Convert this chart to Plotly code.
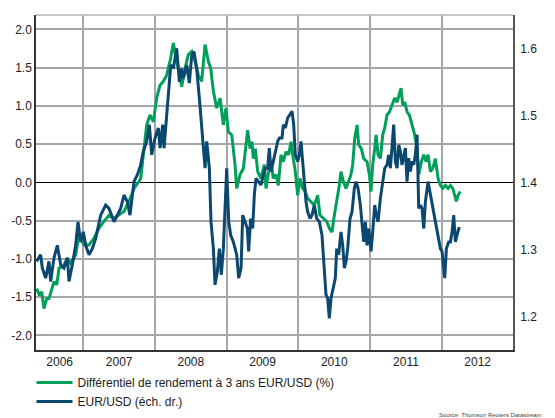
import plotly.graph_objects as go

# Decimal-year time stamps and values
spread_t = [2006.349, 2006.39, 2006.42, 2006.451, 2006.49, 2006.521, 2006.591, 2006.63, 2006.661, 2006.72,
            2006.777, 2006.823, 2006.893, 2006.940, 2007.009, 2007.079, 2007.149, 2007.218, 2007.288, 2007.358,
            2007.428, 2007.497, 2007.567, 2007.637, 2007.707, 2007.776, 2007.80, 2007.837, 2007.884, 2007.930,
            2007.977, 2008.023, 2008.070, 2008.116, 2008.163, 2008.209, 2008.256, 2008.293, 2008.326, 2008.372,
            2008.419, 2008.465, 2008.512, 2008.558, 2008.605, 2008.651, 2008.698, 2008.744, 2008.777, 2008.814,
            2008.860, 2008.907, 2008.953, 2008.990, 2009.023, 2009.070, 2009.116, 2009.139, 2009.186, 2009.232,
            2009.269, 2009.292, 2009.325, 2009.353, 2009.371, 2009.399, 2009.432, 2009.478, 2009.525, 2009.548,
            2009.585, 2009.618, 2009.650, 2009.687, 2009.720, 2009.757, 2009.790, 2009.827, 2009.864, 2009.897,
            2009.920, 2009.957, 2009.990, 2010.022, 2010.059, 2010.097, 2010.129, 2010.176, 2010.222, 2010.269,
            2010.301, 2010.348, 2010.394, 2010.431, 2010.468, 2010.501, 2010.534, 2010.571, 2010.594, 2010.627,
            2010.664, 2010.701, 2010.733, 2010.757, 2010.785, 2010.818, 2010.841, 2010.878, 2010.911, 2010.957,
            2010.990, 2011.013, 2011.036, 2011.064, 2011.083, 2011.111, 2011.143, 2011.176, 2011.204, 2011.236,
            2011.269, 2011.306, 2011.343, 2011.376, 2011.399, 2011.431, 2011.455, 2011.483, 2011.515, 2011.548,
            2011.585, 2011.622, 2011.655, 2011.678, 2011.715, 2011.748, 2011.780, 2011.808, 2011.841, 2011.873,
            2011.910, 2011.948, 2011.980, 2012.013, 2012.050, 2012.087, 2012.120, 2012.152, 2012.180, 2012.203,
            2012.227, 2012.259]
spread_v = [-1.39, -1.48, -1.43, -1.65, -1.52, -1.52, -1.30, -1.34, -1.12, -1.10,
            -0.99, -1.06, -0.95, -0.69, -0.82, -0.82, -0.73, -0.60, -0.51, -0.43,
            -0.47, -0.43, -0.38, -0.25, -0.08, 0.01, 0.05, 0.36, 0.75, 0.88,
            0.79, 1.10, 1.27, 1.32, 1.40, 1.58, 1.82, 1.62, 1.49, 1.25,
            1.49, 1.67, 1.71, 1.58, 1.40, 1.32, 1.80, 1.58, 1.49, 1.19,
            0.97, 1.10, 0.75, 0.97, 0.66, 0.62, 0.23, -0.08, 0.10, 0.18,
            0.55, 0.68, 0.44, 0.53, 0.31, 0.44, 0.14, 0.05, 0.23, -0.08,
            0.14, 0.27, 0.05, 0.10, -0.04, 0.36, 0.27, 0.40, 0.36, 0.53,
            0.36, 0.14, -0.17, 0.05, -0.08, -0.12, -0.21, -0.25, -0.30, -0.17,
            -0.43, -0.47, -0.51, -0.60, -0.65, -0.43, -0.25, -0.04, 0.14, 0.01,
            -0.08, 0.01, 0.10, 0.23, 0.57, 0.75, 0.49, 0.44, 0.31, 0.27,
            0.10, -0.12, 0.23, 0.44, 0.62, 0.36, 0.31, 0.62, 0.71, 0.88,
            0.92, 1.01, 1.10, 1.05, 1.14, 1.23, 1.01, 1.05, 0.92, 0.88,
            0.75, 0.62, 0.44, 0.10, 0.27, 0.36, 0.27, 0.36, 0.14, 0.18,
            0.31, 0.05, -0.04, -0.08, -0.04, -0.08, -0.04, -0.08, -0.17, -0.25,
            -0.17, -0.12]

eurusd_t = [2006.349, 2006.405, 2006.428, 2006.475, 2006.521, 2006.544, 2006.591, 2006.637, 2006.684, 2006.730,
            2006.777, 2006.800, 2006.847, 2006.893, 2006.926, 2006.963, 2007.000, 2007.033, 2007.079, 2007.126,
            2007.172, 2007.242, 2007.312, 2007.358, 2007.428, 2007.474, 2007.521, 2007.567, 2007.614, 2007.651,
            2007.707, 2007.753, 2007.800, 2007.837, 2007.884, 2007.921, 2007.954, 2008.000, 2008.047, 2008.070,
            2008.107, 2008.126, 2008.163, 2008.186, 2008.219, 2008.256, 2008.302, 2008.340, 2008.372, 2008.395,
            2008.442, 2008.479, 2008.512, 2008.544, 2008.581, 2008.619, 2008.651, 2008.674, 2008.698, 2008.721,
            2008.758, 2008.781, 2008.814, 2008.837, 2008.870, 2008.897, 2008.925, 2008.953, 2008.981, 2009.000,
            2009.028, 2009.056, 2009.093, 2009.139, 2009.167, 2009.200, 2009.223, 2009.256, 2009.288, 2009.306,
            2009.334, 2009.362, 2009.385, 2009.408, 2009.446, 2009.478, 2009.511, 2009.539, 2009.571, 2009.594,
            2009.618, 2009.650, 2009.678, 2009.711, 2009.734, 2009.771, 2009.790, 2009.818, 2009.850, 2009.873,
            2009.911, 2009.934, 2009.957, 2009.990, 2010.013, 2010.036, 2010.059, 2010.083, 2010.106, 2010.129,
            2010.162, 2010.190, 2010.222, 2010.255, 2010.292, 2010.329, 2010.362, 2010.385, 2010.408, 2010.431,
            2010.455, 2010.478, 2010.515, 2010.534, 2010.562, 2010.594, 2010.618, 2010.641, 2010.664, 2010.687,
            2010.720, 2010.748, 2010.780, 2010.804, 2010.832, 2010.864, 2010.887, 2010.911, 2010.934, 2010.957,
            2010.980, 2011.013, 2011.036, 2011.064, 2011.087, 2011.111, 2011.143, 2011.176, 2011.204, 2011.236,
            2011.259, 2011.283, 2011.306, 2011.329, 2011.352, 2011.376, 2011.399, 2011.422, 2011.445, 2011.469,
            2011.492, 2011.515, 2011.538, 2011.562, 2011.585, 2011.608, 2011.631, 2011.655, 2011.678, 2011.701,
            2011.724, 2011.748, 2011.771, 2011.808, 2011.841, 2011.873, 2011.910, 2011.948, 2011.980, 2012.003,
            2012.027, 2012.041, 2012.064, 2012.096, 2012.120, 2012.143, 2012.166, 2012.189, 2012.213, 2012.236,
            2012.259]
eurusd_v = [1.282, 1.292, 1.272, 1.257, 1.282, 1.252, 1.287, 1.306, 1.277, 1.272,
            1.287, 1.252, 1.277, 1.306, 1.341, 1.311, 1.326, 1.306, 1.292, 1.301,
            1.316, 1.351, 1.366, 1.361, 1.341, 1.351, 1.361, 1.381, 1.371, 1.351,
            1.401, 1.411, 1.426, 1.446, 1.461, 1.486, 1.441, 1.466, 1.481, 1.451,
            1.486, 1.451, 1.506, 1.535, 1.575, 1.570, 1.600, 1.550, 1.570, 1.555,
            1.575, 1.548, 1.590, 1.595, 1.570, 1.525, 1.481, 1.461, 1.421, 1.461,
            1.421, 1.341, 1.301, 1.247, 1.267, 1.301, 1.262, 1.301, 1.391, 1.421,
            1.341, 1.321, 1.311, 1.292, 1.257, 1.272, 1.351, 1.341, 1.331, 1.297,
            1.346, 1.331, 1.381, 1.406, 1.401, 1.396, 1.411, 1.421, 1.421, 1.451,
            1.416, 1.431, 1.441, 1.461, 1.466, 1.466, 1.486, 1.481, 1.496, 1.500,
            1.506, 1.486, 1.441, 1.431, 1.441, 1.461, 1.431, 1.391, 1.371, 1.356,
            1.346, 1.351, 1.366, 1.346, 1.341, 1.321, 1.272, 1.232, 1.227, 1.197,
            1.227, 1.237, 1.257, 1.301, 1.292, 1.326, 1.306, 1.272, 1.282, 1.301,
            1.346, 1.356, 1.391, 1.401, 1.391, 1.366, 1.341, 1.311, 1.341, 1.306,
            1.331, 1.297, 1.326, 1.366, 1.351, 1.341, 1.376, 1.401, 1.421, 1.426,
            1.441, 1.421, 1.461, 1.486, 1.431, 1.421, 1.456, 1.446, 1.426, 1.441,
            1.451, 1.401, 1.436, 1.416, 1.431, 1.426, 1.441, 1.471, 1.361, 1.366,
            1.361, 1.331, 1.371, 1.401, 1.381, 1.366, 1.341, 1.321, 1.301, 1.297,
            1.272, 1.257, 1.301, 1.311, 1.311, 1.326, 1.351, 1.311, 1.321, 1.331,
            1.331]

year_labels = ["2006", "2007", "2008", "2009", "2010", "2011", "2012"]
year_label_pos = [2006.67, 2007.5, 2008.5, 2009.5, 2010.5, 2011.5, 2012.5]
year_bounds = [2007, 2008, 2009, 2010, 2011, 2012]
left_ticks = [-2.0, -1.5, -1.0, -0.5, 0.0, 0.5, 1.0, 1.5, 2.0]
left_text = ["-2.0", "-1.5", "-1.0", "-0.5", "0.0", "0.5", "1.0", "1.5", "2.0"]
right_ticks = [1.2, 1.3, 1.4, 1.5, 1.6]

GREEN = "#00A05A"
BLUE = "#0B4870"
GRID = "#A4A5A9"
FONT = "Arial, Liberation Sans, sans-serif"

fig = go.Figure()
fig.add_trace(go.Scatter(x=spread_t, y=spread_v, mode="lines",
                         name="Différentiel de rendement à 3 ans EUR/USD (%)",
                         line=dict(color=GREEN, width=3)))
fig.add_trace(go.Scatter(x=eurusd_t, y=eurusd_v, mode="lines", yaxis="y2",
                         name="EUR/USD (éch. dr.)",
                         line=dict(color=BLUE, width=3)))

# the page body adds an 8px offset, so the figure is 8px smaller and shifted
fig.update_layout(
    width=547, height=410,
    margin=dict(l=28, r=42, t=7, b=68, autoexpand=False),
    paper_bgcolor="white", plot_bgcolor="white",
    font=dict(family=FONT, size=12, color="#222222"),
    showlegend=True,
    legend=dict(x=-0.0094, y=-0.054, xanchor="left", yanchor="top", orientation="v",
                font=dict(size=12, color="#222222"), bgcolor="rgba(0,0,0,0)",
                itemwidth=36, tracegroupgap=0),
    xaxis=dict(range=[2006.34, 2012.993], tickmode="array", tickvals=year_label_pos,
               ticktext=year_labels, showgrid=False, zeroline=False, ticks="",
               automargin=False,
               showline=True, linecolor="#333333", linewidth=1.5,
               minor=dict(tickmode="array", tickvals=year_bounds, showgrid=True,
                          gridcolor=GRID, gridwidth=2, ticks=""),
               tickfont=dict(size=12)),
    yaxis=dict(range=[-2.192, 2.187], tickmode="array", tickvals=left_ticks, ticktext=left_text,
               showgrid=True, gridcolor=GRID, gridwidth=2, zeroline=True, automargin=False,
               zerolinecolor="black", zerolinewidth=1.2, ticks="",
               showline=True, linecolor="#333333", linewidth=1.5, tickfont=dict(size=12)),
    yaxis2=dict(range=[1.1497, 1.6497], overlaying="y", side="right", tickmode="array",
                tickvals=right_ticks, tickformat=".1f", showgrid=False, zeroline=False, ticks="",
                ticklabelstandoff=3, automargin=False,
                showline=True, linecolor="#555555", linewidth=1.5, tickfont=dict(size=12)),
    shapes=[dict(type="line", xref="paper", yref="paper", x0=0, x1=1, y0=1, y1=1,
                 line=dict(color="#B5B6B9", width=1.5))],
    annotations=[dict(text="Source: Thomson Reuters Datastream", xref="paper", yref="paper",
                      x=1.065, y=-0.194, xanchor="right", yanchor="middle", showarrow=False,
                      font=dict(size=6, color="#444444"))],
)

fig.write_html("out.html")
